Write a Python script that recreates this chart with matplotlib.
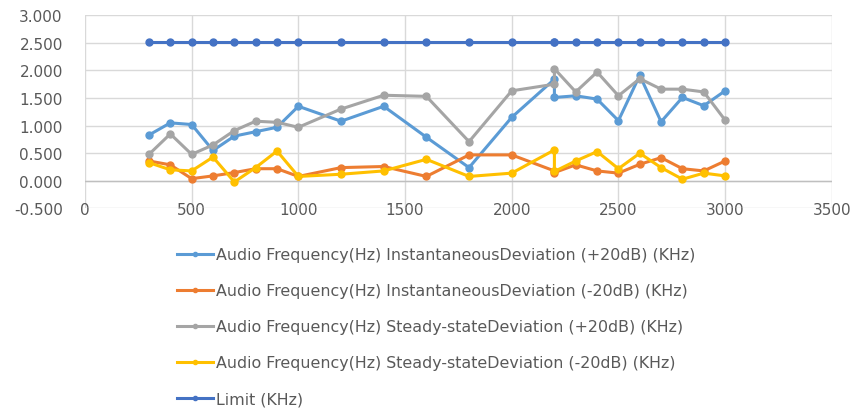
import matplotlib

matplotlib.use('Agg')
import matplotlib.pyplot as plt
from matplotlib.ticker import FuncFormatter

plt.rcParams['font.family'] = ['DejaVu Sans']

freq = [300, 400, 500, 600, 700, 800, 900, 1000, 1200, 1400, 1600, 1800, 2000,
        2200, 2200, 2300, 2400, 2500, 2600, 2700, 2800, 2900, 3000]

inst_pos = [0.83, 1.05, 1.02, 0.55, 0.81, 0.89, 0.97, 1.35, 1.08, 1.35, 0.79, 0.24, 1.15,
            1.84, 1.51, 1.54, 1.48, 1.09, 1.91, 1.07, 1.51, 1.36, 1.63]
inst_neg = [0.36, 0.29, 0.04, 0.09, 0.15, 0.22, 0.22, 0.08, 0.24, 0.26, 0.08, 0.47, 0.47,
            0.18, 0.15, 0.29, 0.18, 0.14, 0.30, 0.42, 0.22, 0.18, 0.36]
steady_pos = [0.48, 0.85, 0.48, 0.65, 0.91, 1.08, 1.06, 0.97, 1.30, 1.55, 1.53, 0.71, 1.63,
              1.75, 2.03, 1.61, 1.97, 1.54, 1.85, 1.66, 1.66, 1.61, 1.10]
steady_neg = [0.33, 0.20, 0.18, 0.43, -0.02, 0.24, 0.54, 0.08, 0.12, 0.18, 0.39, 0.08, 0.14,
              0.56, 0.17, 0.36, 0.53, 0.22, 0.50, 0.24, 0.03, 0.14, 0.09]
limit = [2.52] * len(freq)

labels = [
    "Audio Frequency(Hz) InstantaneousDeviation (+20dB) (KHz)",
    "Audio Frequency(Hz) InstantaneousDeviation (-20dB) (KHz)",
    "Audio Frequency(Hz) Steady-stateDeviation (+20dB) (KHz)",
    "Audio Frequency(Hz) Steady-stateDeviation (-20dB) (KHz)",
    "Limit (KHz)",
]
series = [inst_pos, inst_neg, steady_pos, steady_neg, limit]
colors = ['#5B9BD5', '#ED7D31', '#A5A5A5', '#FFC000', '#4472C4']

fig = plt.figure(figsize=(8.54, 4.14), dpi=100)
ax = fig.add_axes([0.0995, 0.494, 0.8745, 0.467])

for vals, lab, col in zip(series, labels, colors):
    ax.plot(freq, vals, color=col, lw=2.2, marker='o', ms=5, label=lab,
            solid_joinstyle='round')

ax.set_xlim(0, 3500)
ax.set_ylim(-0.5, 3.0)
ax.set_xticks(range(0, 3501, 500))
ax.set_yticks([-0.5 + 0.5 * i for i in range(8)])
ax.yaxis.set_major_formatter(FuncFormatter(lambda v, p: f"{v:.3f}"))
ax.grid(True, color='#D9D9D9', lw=1)
ax.set_axisbelow(True)
ax.axhline(0, color='#BFBFBF', lw=1, zorder=1)
for s in ax.spines.values():
    s.set_visible(False)
ax.tick_params(length=0, labelsize=11, labelcolor='#595959')
ax.tick_params(axis='x', pad=-5)
ax.tick_params(axis='y', pad=16)

handles, labs = ax.get_legend_handles_labels()
fig.legend(handles, labs, loc='upper left', bbox_to_anchor=(0.19, 0.435),
           frameon=False, fontsize=11.4, labelcolor='#595959', handlelength=2.3,
           handletextpad=0.2, labelspacing=1.33, markerscale=0.6)

fig.savefig('out.png', dpi=100)
